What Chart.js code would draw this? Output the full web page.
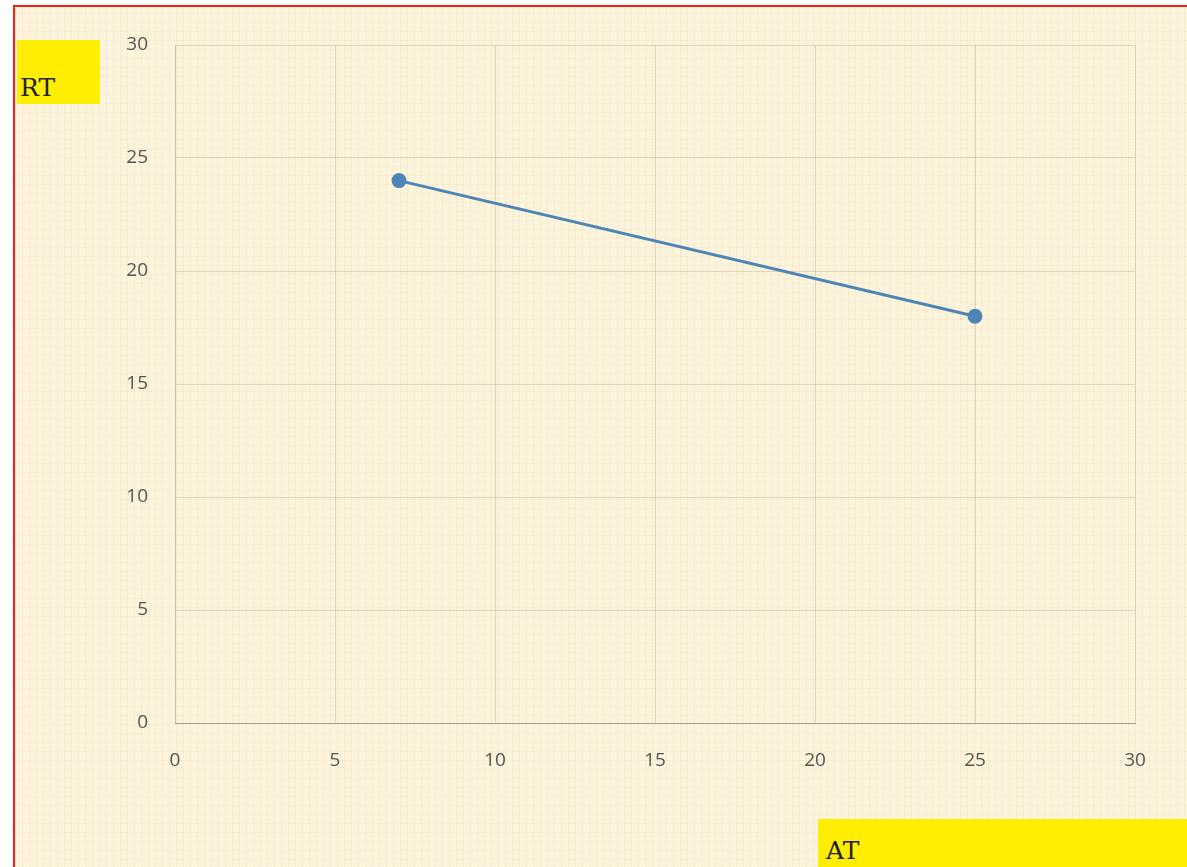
<!DOCTYPE html>
<html>
<head>
<meta charset="utf-8">
<script src="https://cdn.jsdelivr.net/npm/chart.js@4/dist/chart.umd.min.js"></script>
<style>
  body { margin: 0; background: #fff; }
  #frame {
    position: absolute; left: 13px; top: 5px; width: 1174px; height: 862px;
    border-left: 2px solid #ff1a1a; border-top: 2px solid #ff1a1a;
    background-color: #fdf4dc;
    background-image:
      repeating-linear-gradient(90deg, rgba(190,150,120,0.10) 0 1px, transparent 1px 7px),
      repeating-linear-gradient(0deg, rgba(190,150,120,0.08) 0 1px, transparent 1px 9px);
  }
  #wrap { position: absolute; left: 0; top: 0; width: 1187px; height: 867px; }
  .tag {
    position: absolute; background: #ffee00; color: #222;
    font-family: "DejaVu Serif", serif; font-size: 25px;
  }
  #rt { left: 17px; top: 40px; width: 83px; height: 64px; }
  #rt span { position: absolute; left: 3px; bottom: 2px; }
  #at { left: 818px; top: 819px; width: 369px; height: 48px; }
  #at span { position: absolute; left: 8px; bottom: 2px; }
</style>
</head>
<body>
<div id="frame"></div>
<div id="wrap"><canvas id="chart"></canvas></div>
<div class="tag" id="rt"><span>RT</span></div>
<div class="tag" id="at"><span>AT</span></div>
<script>
const atValues = [7, 25]
const rtValues = [24, 18]
const axisMin = 0
const axisMax = 30
const axisStep = 5

const points = atValues.map((x, i) => ({ x: x, y: rtValues[i] }))

const gridColor = 'rgba(160, 130, 110, 0.28)'
const tickFont = { family: 'Open Sans', size: 19 }

new Chart(document.getElementById('chart'), {
  type: 'scatter',
  data: {
    datasets: [{
      data: points,
      showLine: true,
      borderColor: '#4d86b6',
      backgroundColor: '#4d86b6',
      borderWidth: 3,
      pointRadius: 6,
      pointHoverRadius: 6
    }]
  },
  options: {
    responsive: true,
    maintainAspectRatio: false,
    animation: false,
    layout: { padding: { left: 0, top: 45, right: 52, bottom: 0 } },
    plugins: { legend: { display: false }, tooltip: { enabled: false } },
    scales: {
      x: {
        min: axisMin, max: axisMax,
        ticks: { stepSize: axisStep, color: '#555', font: tickFont, padding: 26 },
        grid: { color: gridColor, drawTicks: false },
        border: { color: 'rgba(130, 110, 100, 0.55)' },
        afterFit: (scale) => { scale.height = 144 }
      },
      y: {
        min: axisMin, max: axisMax,
        ticks: { stepSize: axisStep, color: '#555', font: tickFont, padding: 27 },
        grid: { color: gridColor, drawTicks: false },
        border: { color: gridColor },
        afterFit: (scale) => { scale.width = 175 }
      }
    }
  }
})
</script>
</body>
</html>
